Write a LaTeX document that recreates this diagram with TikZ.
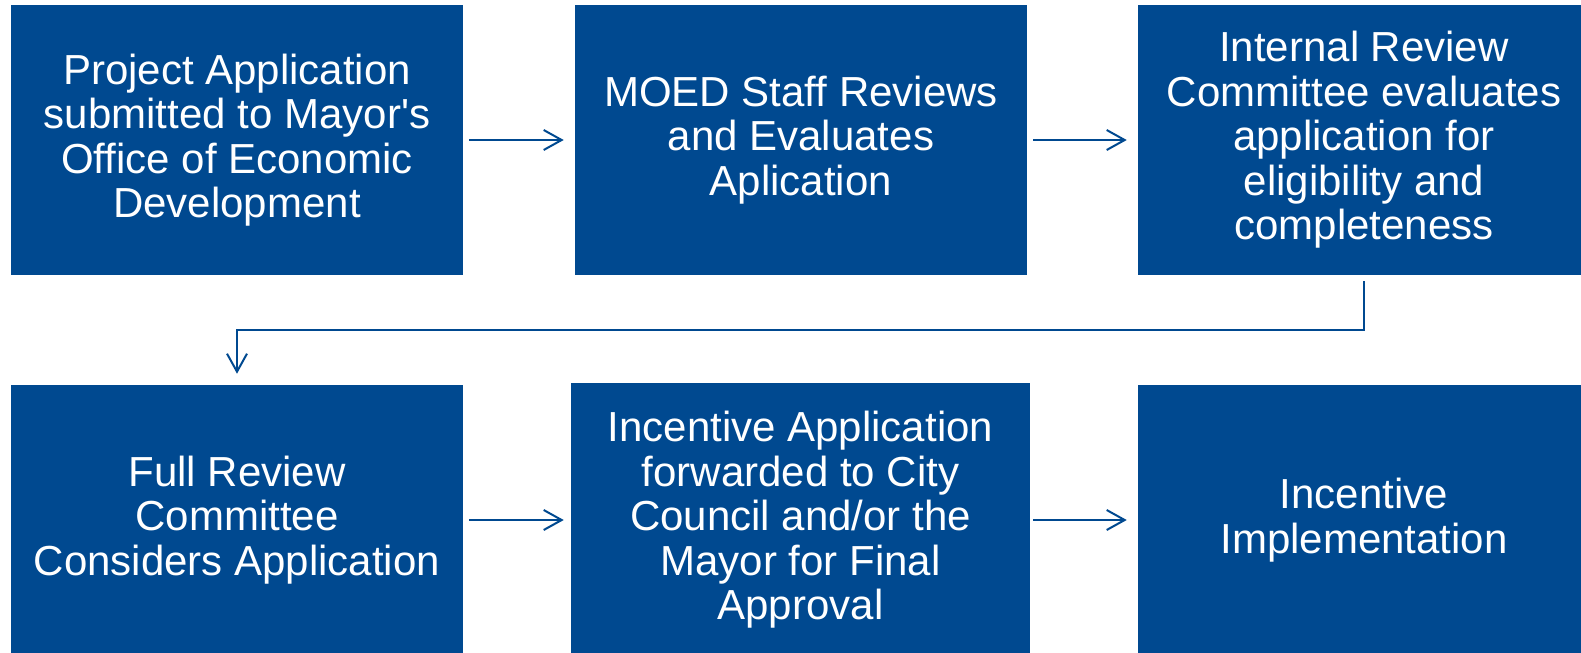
\documentclass[tikz,border=0pt]{standalone}
\usepackage{fontspec}
\setmainfont{Liberation Sans}
\usetikzlibrary{arrows.meta}
\definecolor{moedblue}{RGB}{0,73,144}

\begin{document}
\begin{tikzpicture}[x=0.75pt,y=-0.75pt,
  stage/.style={fill=moedblue,text=white,align=center,inner sep=0pt,
    minimum width=339pt,minimum height=202.5pt,
    font=\fontsize{31.5}{33.4}\selectfont},
  flow/.style={draw=moedblue,line width=1.5pt,
    -{Straight Barb[length=13.5pt,width=15pt]},
    shorten <=4.5pt,shorten >=8.25pt}]
\useasboundingbox (0,0) rectangle (1581,653);
\def\rowa{140}
\def\rowb{520}

\node[stage] (S1) at (237,\rowa) {Project Application\\submitted to Mayor\textquotesingle s\\Office of Economic\\Development};
\node[stage] (S2) at (801,\rowa) {MOED Staff Reviews\\and Evaluates\\Aplication};
\node[stage] (S3) at (1364,\rowa) {Internal Review\\Committee evaluates\\application for\\eligibility and\\completeness};

\node[stage] (S4) at (237,\rowb) {Full Review\\Committee\\Considers Application};
\node[stage,minimum width=344.25pt,minimum height=205.5pt] (S5) at (800.5,\rowb) {Incentive Application\\forwarded to City\\Council and/or the\\Mayor for Final\\Approval};
\node[stage] (S6) at (1364,\rowb) {Incentive\\Implementation};

\draw[flow] (S1) -- (S2);
\draw[flow] (S2) -- (S3);
\draw[flow] (S3.south) -- ++(0,55) -| (S4.north);
\draw[flow,shorten >=5.25pt] (S4) -- (S5);
\draw[flow,shorten <=2.25pt] (S5) -- (S6);

\end{tikzpicture}
\end{document}
